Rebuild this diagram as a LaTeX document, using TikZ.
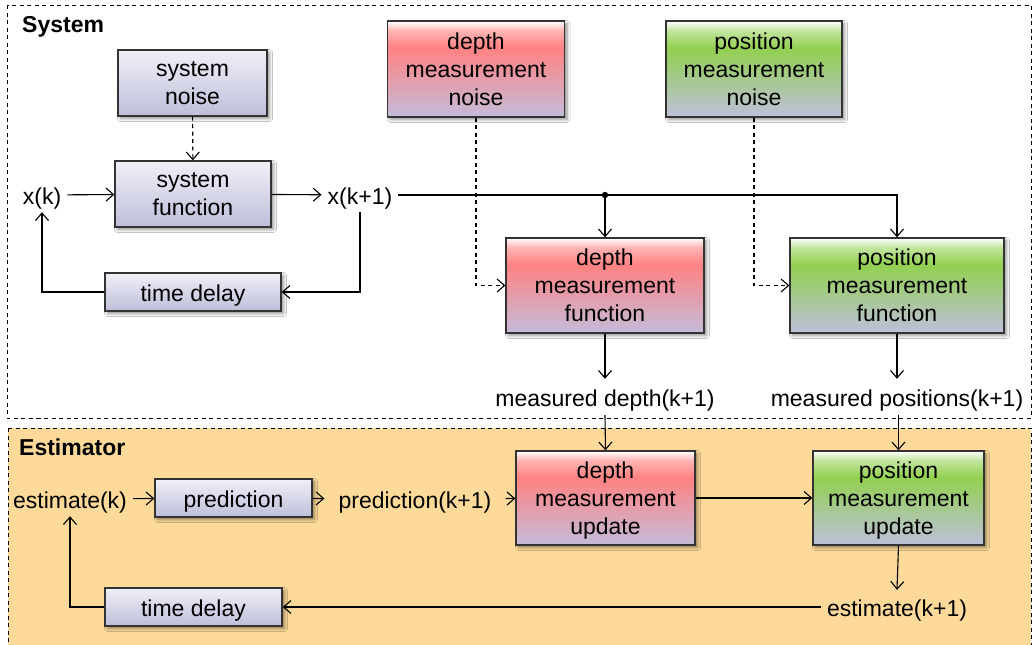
\documentclass[tikz,border=0pt]{standalone}
\usepackage{fontspec}
\setmainfont{Liberation Sans}
\usetikzlibrary{arrows.meta,shadows,shadows.blur,calc}
\definecolor{bbot}{HTML}{BEBEDA}
\definecolor{btop}{HTML}{F0F0F8}
\definecolor{rmid}{HTML}{FF8282}
\definecolor{rbot}{HTML}{C4BCDA}
\definecolor{gmid}{HTML}{92D050}
\definecolor{gbot}{HTML}{BEC0DA}
\definecolor{estfill}{HTML}{FDDA9A}
\definecolor{edge}{HTML}{333333}
\pgfdeclareverticalshading{redshade}{100bp}{color(0bp)=(rbot); color(25bp)=(rbot); color(61bp)=(rmid); color(70bp)=(rmid!60!white); color(75bp)=(white); color(100bp)=(white)}
\pgfdeclareverticalshading{greenshade}{100bp}{color(0bp)=(gbot); color(25bp)=(gbot); color(61bp)=(gmid); color(70bp)=(gmid!55!white); color(75bp)=(white); color(100bp)=(white)}
\begin{document}
\begin{tikzpicture}[x=1pt,y=-1pt,
  txt/.style={font=\fontsize{23}{28}\selectfont},
  oneline/.style={text height=20pt,text depth=2pt},
  box/.style={txt,draw=edge,line width=1.3pt,align=center,inner sep=0pt,
    blur shadow={shadow xshift=2.5pt,shadow yshift=-2.5pt,shadow blur steps=6,shadow blur radius=3pt,shadow opacity=45}},
  bluebox/.style={box,top color=btop,bottom color=bbot},
  redbox/.style={box,shading=redshade},
  greenbox/.style={box,shading=greenshade},
  lbl/.style={txt,oneline,inner sep=6pt},
  conn/.style={line width=1.1pt,-{Straight Barb[length=7.5pt,width=13pt]}},
  dsh/.style={dash pattern=on 4pt off 3.5pt},
  title/.style={font=\fontsize{23}{28}\selectfont\bfseries,oneline,anchor=west,inner sep=0pt}
]
\useasboundingbox (0,0) rectangle (1034,645);
% regions
\draw[dsh,line width=0.9pt,fill=white] (7,5) rectangle (1031,418);
\draw[dsh,line width=0.9pt,fill=estfill] (8,428) rectangle (1031,652);
\node[title] (tsys) at (22,23) {System};
\node[title] (test) at (19,446) {Estimator};
% system part
\node[bluebox,minimum width=149pt,minimum height=66pt] (sn) at (192.5,83) {system\\noise};
\node[bluebox,minimum width=156pt,minimum height=66pt] (sf) at (193,194) {system\\function};
\node[bluebox,oneline,minimum width=176pt,minimum height=38pt] (td1) at (193,292) {time delay};
\node[lbl] (xk) at (42,195) {x(k)};
\node[lbl] (xk1) at (360,195) {x(k+1)};
\node[redbox,minimum width=177pt,minimum height=96pt] (dn) at (476,69) {depth\\measurement\\noise};
\node[greenbox,minimum width=176pt,minimum height=96pt] (pn) at (754,69) {position\\measurement\\noise};
\node[redbox,minimum width=198pt,minimum height=95pt] (df) at (605,285.5) {depth\\measurement\\function};
\node[greenbox,minimum width=214pt,minimum height=95pt] (pf) at (897,285.5) {position\\measurement\\function};
\node[lbl,inner sep=7pt] (md) at (605,397) {measured depth(k+1)};
\node[lbl,inner sep=7pt] (mp) at (897,397) {measured positions(k+1)};
% estimator part
\node[lbl] (ek) at (70,499) {estimate(k)};
\node[bluebox,oneline,minimum width=157pt,minimum height=38pt] (pr) at (233.5,498) {prediction};
\node[lbl,inner xsep=14pt] (pk) at (415,499) {prediction(k+1)};
\node[redbox,text depth=0pt,minimum width=179pt,minimum height=94pt] (du) at (605.5,498) {depth\\measurement\\update};
\node[greenbox,text depth=0pt,minimum width=171pt,minimum height=94pt] (pu) at (898.5,498) {position\\measurement\\update};
\node[bluebox,oneline,minimum width=177pt,minimum height=38pt] (td2) at (193.5,607) {time delay};
\node[lbl] (ek1) at (897,607) {estimate(k+1)};
% system connectors
\draw[conn,dsh] (sn) -- (sf);
\draw[conn] (xk) -- (sf);
\draw[conn] (sf) -- (xk1);
\draw[conn] (xk1.south) |- (td1.east);
\draw[conn] (td1.west) -| (xk.south);
\coordinate (j) at (df.north |- xk1.east);
\draw[conn] (xk1.east) -- (xk1.east -| pf.north) -- (pf.north);
\draw[conn] (j) -- (df.north);
\fill (j) circle (3.2pt);
\draw[conn,dsh] (dn.south) |- (df.west);
\draw[conn,dsh] (pn.south) |- (pf.west);
\draw[conn] (df.south) -- (md.north);
\draw[conn] (pf.south) -- (mp.north);
% estimator connectors
\draw[conn] (md.south) -- (du.north);
\draw[conn] (mp.south -| pu.north) -- (pu.north);
\draw[conn] (ek) -- (pr);
\draw[conn] (pr) -- (pk);
\draw[conn] (pk) -- (du);
\draw[conn] (du) -- (pu);
\draw[conn] (pu.south) -- (ek1.north);
\draw[conn] (ek1.west) -- (td2.east);
\draw[conn] (td2.west) -| (ek.south);
\end{tikzpicture}
\end{document}
